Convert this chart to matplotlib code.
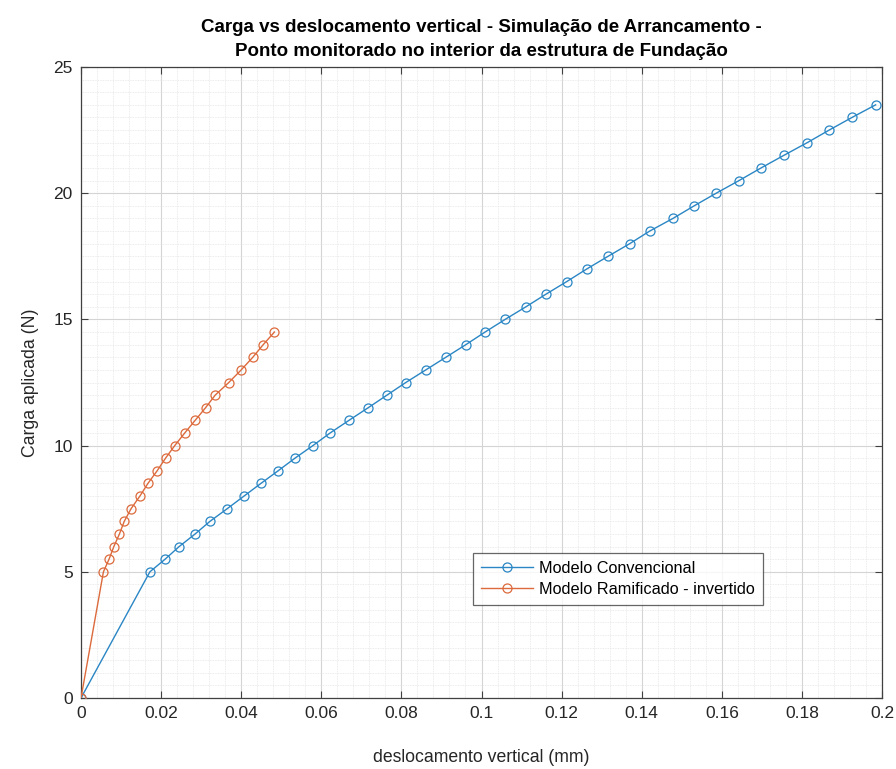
import matplotlib
matplotlib.use("Agg")
import matplotlib.pyplot as plt
from matplotlib.ticker import MultipleLocator, FuncFormatter

plt.rcParams['font.family'] = ['Liberation Sans', 'DejaVu Sans']

# Carga aplicada (N)
carga_conv = [0, 5, 5.5, 6, 6.5, 7, 7.5, 8, 8.5, 9, 9.5, 10, 10.5, 11, 11.5, 12,
              12.5, 13, 13.5, 14, 14.5, 15, 15.5, 16, 16.5, 17, 17.5, 18, 18.5,
              19, 19.5, 20, 20.5, 21, 21.5, 22, 22.5, 23, 23.5]
# deslocamento vertical (mm)
desl_conv = [0, 0.0172, 0.0210, 0.0245, 0.0285, 0.0322, 0.0365, 0.0407, 0.0449,
             0.0492, 0.0534, 0.0579, 0.0622, 0.0669, 0.0717, 0.0764, 0.0811,
             0.0861, 0.0911, 0.0961, 0.1009, 0.1059, 0.1111, 0.1161, 0.1213,
             0.1263, 0.1316, 0.1370, 0.1420, 0.1478, 0.1531, 0.1586, 0.1643,
             0.1698, 0.1755, 0.1813, 0.1868, 0.1925, 0.1984]

carga_ram = [0, 5, 5.5, 6, 6.5, 7, 7.5, 8, 8.5, 9, 9.5, 10, 10.5, 11, 11.5, 12,
             12.5, 13, 13.5, 14, 14.5]
desl_ram = [0, 0.0056, 0.0070, 0.0082, 0.0096, 0.0108, 0.0125, 0.0147, 0.0167,
            0.0190, 0.0211, 0.0234, 0.0259, 0.0285, 0.0311, 0.0335, 0.0369,
            0.0400, 0.0429, 0.0455, 0.0483]

x_ticks = [0, 0.02, 0.04, 0.06, 0.08, 0.1, 0.12, 0.14, 0.16, 0.18, 0.2]
y_ticks = [0, 5, 10, 15, 20, 25]

blue = '#2a86c4'
orange = '#dc6a3c'

fig = plt.figure(figsize=(8.96, 7.69), dpi=100)
ax = fig.add_axes([0.0904, 0.0923, 0.8940, 0.8206])

ax.plot(desl_conv, carga_conv, color=blue, lw=1.0, marker='o', ms=6.5,
        mfc='none', mec=blue, mew=0.9, label='Modelo Convencional', zorder=3)
ax.plot(desl_ram, carga_ram, color=orange, lw=1.0, marker='o', ms=6.5,
        mfc='none', mec=orange, mew=0.9, label='Modelo Ramificado - invertido', zorder=3)

ax.set_xlim(0, 0.2)
ax.set_ylim(0, 25)
ax.set_xticks(x_ticks)
ax.set_yticks(y_ticks)
ax.xaxis.set_major_formatter(FuncFormatter(lambda v, p: ('%g' % round(v, 4))))
ax.xaxis.set_minor_locator(MultipleLocator(0.004))
ax.yaxis.set_minor_locator(MultipleLocator(0.5))

ax.grid(True, which='major', color='#d4d4d4', lw=0.8)
ax.grid(True, which='minor', color='#e6e6e6', lw=0.6, ls=(0, (1, 1)))
ax.set_axisbelow(True)

for s in ax.spines.values():
    s.set_color('#404040')
    s.set_linewidth(0.9)

ax.tick_params(which='major', direction='in', length=5, width=0.8, colors='#404040',
               labelcolor='#262626', top=True, right=True, labelsize=12.5, pad=6)
ax.tick_params(which='minor', direction='in', length=0, top=True, right=True)

ax.set_xlabel('deslocamento vertical (mm)', fontsize=12.7, color='#262626', labelpad=20)
ax.set_ylabel('Carga aplicada (N)', fontsize=12.7, color='#262626', labelpad=10)
ax.set_title('Carga vs deslocamento vertical - Simulação de Arrancamento -\n'
             'Ponto monitorado no interior da estrutura de Fundação',
             fontsize=13.5, fontweight='bold', color='black', pad=8, linespacing=1.5)

leg = ax.legend(loc='lower left', bbox_to_anchor=(0.489, 0.147), borderaxespad=0,
                fontsize=11.7, frameon=True, fancybox=False, edgecolor='#404040',
                handlelength=3.2, borderpad=0.5, labelspacing=0.4, handletextpad=0.4)
leg.get_frame().set_linewidth(0.9)

fig.savefig('out.png', dpi=100, facecolor='white')
